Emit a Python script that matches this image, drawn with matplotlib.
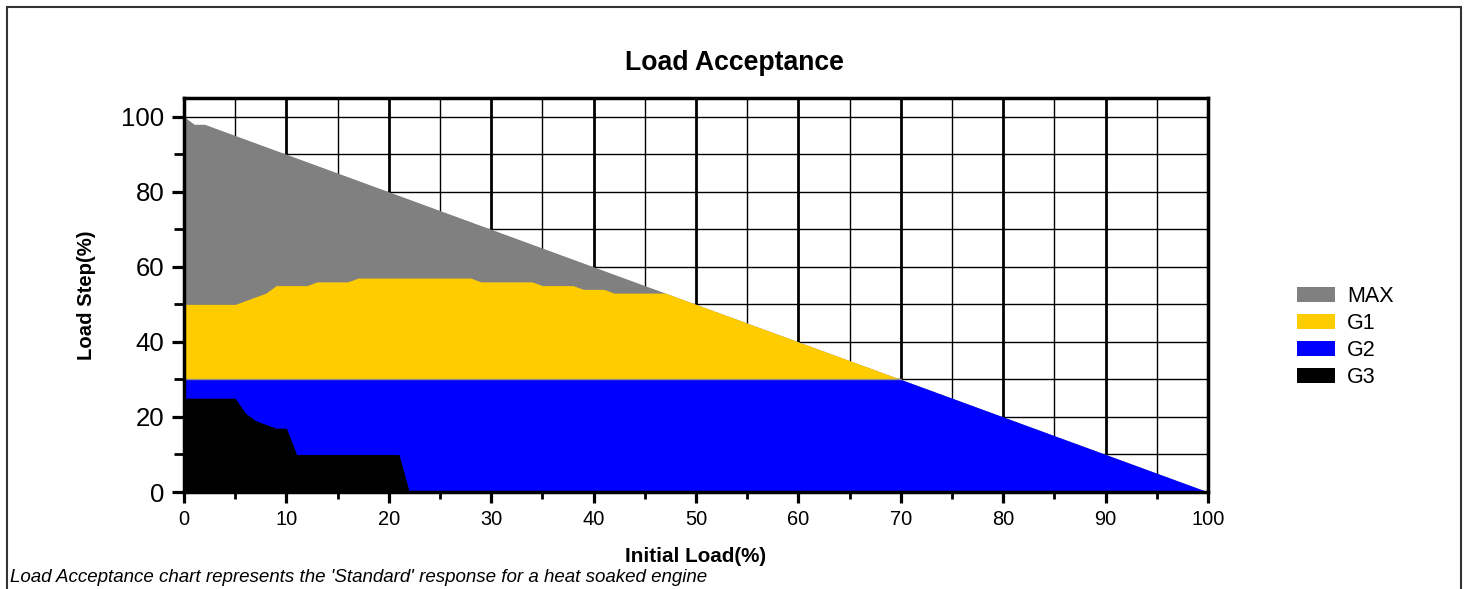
import matplotlib.pyplot as plt
from matplotlib.patches import Patch, Rectangle
import numpy as np

plt.rcParams['font.family'] = ['Liberation Sans', 'DejaVu Sans']

# boundary curves (initial load %, load step %)
max_x = [0, 1, 2, 100]
max_y = [100, 98, 98, 0]

g1_x = [0, 5, 8, 9, 12, 13, 16, 17, 28, 29, 34, 35, 38, 39, 41, 42, 47, 70]
g1_y = [50, 50, 53, 55, 55, 56, 56, 57, 57, 56, 56, 55, 55, 54, 54, 53, 53, 30]

g2_x = [0, 70, 100]
g2_y = [30, 30, 0]

g3_x = [0, 5, 6, 7, 9, 10, 11, 21, 22]
g3_y = [25, 25, 21, 19, 17, 17, 10, 10, 0]

labels = ['MAX', 'G1', 'G2', 'G3']
colors = ['#808080', '#ffcc00', '#0000ff', '#000000']

fig = plt.figure(figsize=(14.68, 5.89), dpi=100)
ax = fig.add_axes([184 / 1468, 1 - 492 / 589, 1024 / 1468, 394 / 589])

ax.fill_between(max_x, max_y, 0, color=colors[0], lw=0, zorder=2)
ax.fill_between(g1_x, g1_y, 0, color=colors[1], lw=0, zorder=3)
ax.fill_between(g2_x, g2_y, 0, color=colors[2], lw=0, zorder=4)
ax.plot([0, 70], [30, 30], color='#8a8a8a', lw=1, zorder=4.5)
ax.fill_between(g3_x, g3_y, 0, color=colors[3], lw=0, zorder=5)

ax.set_xlim(0, 100)
ax.set_ylim(0, 105)
ax.set_xticks(np.arange(0, 101, 10))
ax.set_xticks(np.arange(5, 100, 10), minor=True)
ax.set_yticks(np.arange(0, 101, 20))
ax.set_yticks(np.arange(10, 100, 20), minor=True)

for x in range(5, 100, 10):
    ax.axvline(x, color='black', lw=1, zorder=1)
for x in range(10, 100, 10):
    ax.axvline(x, color='black', lw=2, zorder=1)
for y in range(10, 101, 10):
    ax.axhline(y, color='black', lw=1, zorder=1)

for s in ax.spines.values():
    s.set_linewidth(2.5)
    s.set_zorder(6)
ax.tick_params(which='major', direction='out', length=8, width=2.3, labelsize=14.4, pad=5)
ax.tick_params(which='minor', direction='out', length=5, width=2)
ax.tick_params(axis='y', which='major', length=9, labelsize=18.5, pad=5)
ax.tick_params(axis='y', which='minor', length=7)

ax.set_xlabel('Initial Load(%)', fontsize=14.9, fontweight='bold', labelpad=13)
ax.set_ylabel('Load Step(%)', fontsize=14.6, fontweight='bold', labelpad=18)

fig.text(0.5, 1 - 63 / 589, 'Load Acceptance', ha='center', va='center',
         fontsize=19.2, fontweight='bold')

handles = [Patch(facecolor=c, edgecolor='none', label=l) for c, l in zip(colors, labels)]
fig.legend(handles=handles, loc='center left', bbox_to_anchor=(1297 / 1468, 1 - 337 / 589),
           frameon=False, fontsize=15.5, handlelength=1.77, handleheight=0.75,
           labelspacing=0.28, handletextpad=0.55, borderaxespad=0, borderpad=0)

fig.text(10 / 1468, 1 - 577 / 589, "Load Acceptance chart represents the 'Standard' response for a heat soaked engine",
         ha='left', va='center', fontsize=13.5, style='italic')

fig.patches.append(Rectangle((7 / 1468, -0.01), 1454 / 1468, 1 - 7 / 589 + 0.01,
                             transform=fig.transFigure, fill=False, ec='#333333', lw=1.5))

fig.savefig('out.png', dpi=100)
